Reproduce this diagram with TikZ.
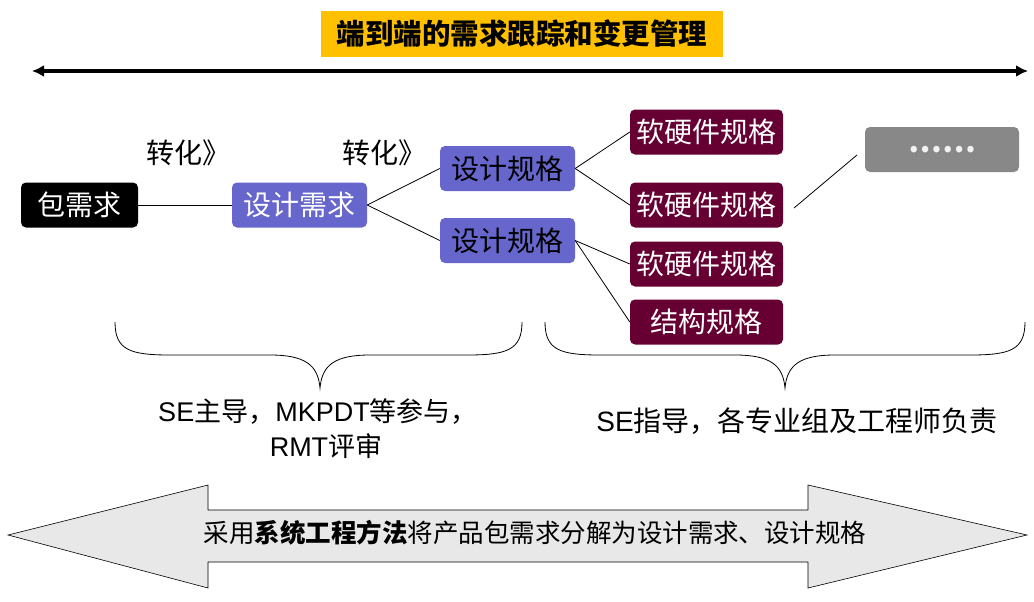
\documentclass[tikz,border=0pt]{standalone}
\usepackage{fontspec}
\setmainfont{Noto Sans CJK SC}
\newfontfamily\latinfont{Liberation Sans}
\usetikzlibrary{arrows.meta}
\definecolor{titleyellow}{HTML}{FFC000}
\definecolor{designblue}{HTML}{6666CC}
\definecolor{specred}{HTML}{660033}
\definecolor{moregray}{HTML}{888888}
\definecolor{arrowgray}{HTML}{E8E8E8}
\tikzset{
  boxbase/.style={rounded corners=5pt, minimum height=45pt, inner sep=0pt, font=\fontsize{28}{32}\selectfont},
  pkgbox/.style={boxbase, fill=black, text=white, minimum width=117pt},
  reqbox/.style={boxbase, fill=designblue, text=white, minimum width=135pt},
  dspecbox/.style={boxbase, fill=designblue, text=black, minimum width=135pt},
  hwbox/.style={boxbase, fill=specred, text=white, minimum width=153pt},
  morebox/.style={boxbase, fill=moregray, text=white, minimum width=154pt},
  link/.style={draw=black, line width=0.8pt},
  brace/.style={draw=black, line width=0.8pt},
  label/.style={font=\fontsize{27}{32}\selectfont, inner sep=0pt}
}
\begin{document}
\begin{tikzpicture}[x=1pt,y=-1pt]
\useasboundingbox (0,0) rectangle (1034,602);
% title
\node[fill=titleyellow, minimum width=402pt, minimum height=46pt, inner sep=0pt,
      font=\fontsize{28.5}{32}\selectfont\bfseries] (title) at (522,34) {端到端的需求跟踪和变更管理};
% top double arrow
\coordinate (la) at (32,71);
\coordinate (ra) at (1028,71);
\draw[line width=3.5pt, {Latex[length=12pt,width=12pt]}-{Latex[length=12pt,width=12pt]}] (la) -- (ra);
% labels
\node[label, font=\fontsize{28}{32}\selectfont] (t1) at (188,153) {转化》};
\node[label, font=\fontsize{28}{32}\selectfont] (t2) at (384,153) {转化》};
% boxes
\node[pkgbox] (pkg) at (79.5,205) {包需求};
\node[reqbox] (req) at (299.5,205) {设计需求};
\node[dspecbox] (ds1) at (507.5,168.5) {设计规格};
\node[dspecbox] (ds2) at (507.5,240.5) {设计规格};
\node[hwbox] (hw1) at (706.5,132) {软硬件规格};
\node[hwbox] (hw2) at (706.5,205) {软硬件规格};
\node[hwbox] (hw3) at (706.5,264) {软硬件规格};
\node[hwbox] (st) at (706.5,322) {结构规格};
\node[morebox, font=\fontsize{30}{32}\selectfont\bfseries, text=white!90!gray] (more) at (942,149.5) {……};
% connectors
\draw[link] (pkg.east) -- (req.west);
\draw[link] (req.east) -- (ds1.west);
\draw[link] (req.east) -- (ds2.west);
\draw[link] (ds1.east) -- (hw1.west);
\draw[link] (ds1.east) -- (hw2.west);
\draw[link] (ds2.east) -- (hw3.west);
\draw[link] (ds2.east) -- (st.west);
\coordinate (f1) at (794,208);
\coordinate (f2) at (857,155);
\draw[link] (f1) -- (f2);
% braces
\draw[brace] (115,322) .. controls (115,350) and (130,355) .. (170,355) -- (270,355)
  .. controls (305,355) and (318,365) .. (320,388)
  .. controls (322,365) and (335,355) .. (370,355) -- (467,355)
  .. controls (507,355) and (522,350) .. (522,322);
\draw[brace] (545,322) .. controls (545,350) and (560,355) .. (600,355) -- (735,355)
  .. controls (770,355) and (783,365) .. (785,388)
  .. controls (787,365) and (800,355) .. (835,355) -- (970,355)
  .. controls (1010,355) and (1025,350) .. (1025,322);
% brace texts
\node[label] (lt1) at (318,412) {{\latinfont SE}主导，{\latinfont MKPDT}等参与，};
\node[label] (lt2) at (326,446) {{\latinfont RMT}评审};
\node[label, font=\fontsize{28}{32}\selectfont] (rt) at (797,421) {{\latinfont SE}指导，各专业组及工程师负责};
% big double arrow
\draw[fill=arrowgray, draw=black, line width=0.6pt]
  (8,535) -- (208,485) -- (208,510) -- (808,510) -- (808,485) -- (1027,535)
  -- (808,588) -- (808,562) -- (208,562) -- (208,588) -- cycle;
\node[font=\fontsize{25.5}{28}\selectfont, inner sep=0pt] (bottomtext) at (535,533)
  {采用\textbf{系统工程方法}将产品包需求分解为设计需求、设计规格};
\end{tikzpicture}
\end{document}
